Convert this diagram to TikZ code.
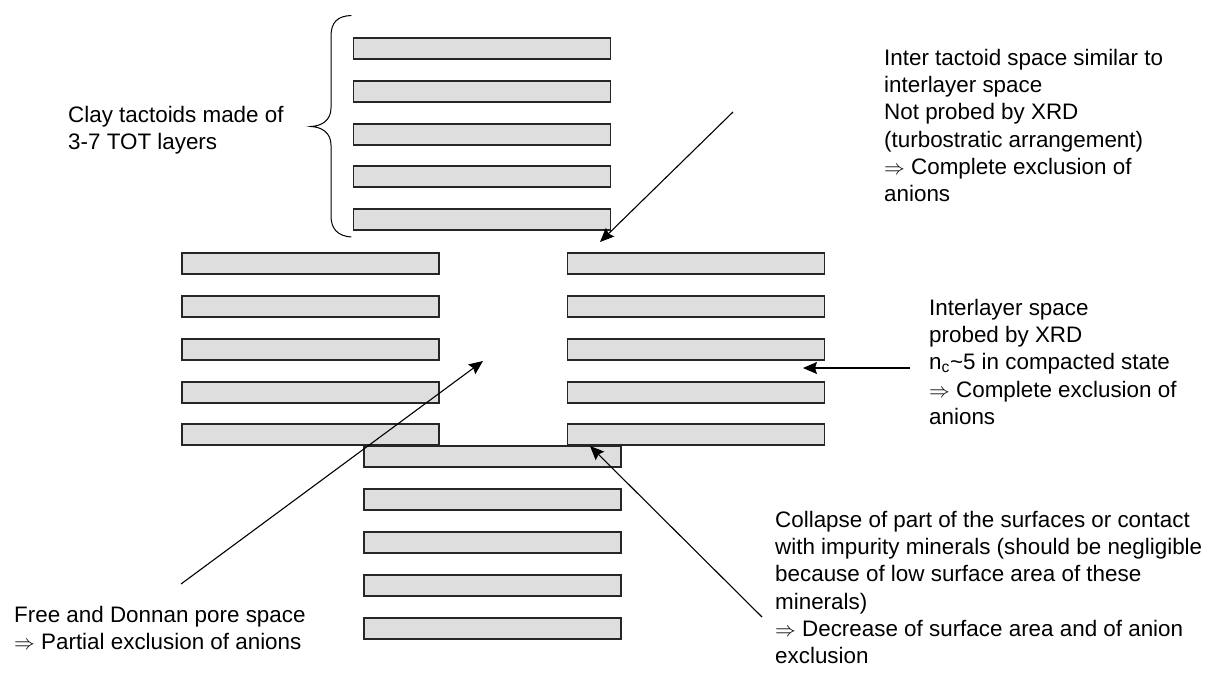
\documentclass[tikz,border=0pt]{standalone}
\usepackage{fontspec}
\setmainfont{Liberation Sans}
\usetikzlibrary{arrows.meta}
\tikzset{
  layerbox/.style={draw=black!85,line width=1.1pt,fill=black!13,minimum width=#1,minimum height=21pt,inner sep=0pt,outer sep=0pt,anchor=north west},
  layerbox/.default=257pt,
  label/.style={anchor=north west,align=left,inner sep=0pt,font=\fontsize{22.4}{27.2}\selectfont},
  pointer/.style={line width=1.1pt,-{Stealth[length=14pt,width=12pt,inset=2pt]}},
  bracecurve/.style={line width=1pt,line cap=round}
}
\begin{document}
\begin{tikzpicture}[x=1pt,y=-1pt]
\useasboundingbox (0,0) rectangle (1216,675);
% top tactoid
\foreach \n/\y in {a/38,b/81,c/124,d/166,e/209}
  \node[layerbox] (top\n) at (353.5,\y) {};
% middle left and right tactoids
\foreach \n/\y in {a/253,b/296,c/339,d/382,e/424}{
  \node[layerbox] (left\n) at (182,\y) {};
  \node[layerbox] (right\n) at (567.5,\y) {};
}
% bottom tactoid
\foreach \n/\y in {a/446,b/489,c/532,d/575,e/618}
  \node[layerbox] (bot\n) at (364,\y) {};
% brace
\draw[bracecurve] (351,15.5) .. controls (338,16) and (331,22) .. (331,36)
  -- (331,108) .. controls (331,120) and (322,126) .. (311,126.5)
  .. controls (322,127) and (331,133) .. (331,145)
  -- (331,216) .. controls (331,229) and (338,236) .. (351,237);
% labels
\node[label] (clay) at (68,106) {Clay tactoids made of\\3-7 TOT layers};
\node[label] (inter) at (884,49) {Inter tactoid space similar to\\interlayer space\\Not probed by XRD\\(turbostratic arrangement)\\$\Rightarrow$ Complete exclusion of\\anions};
\node[label] (xrd) at (929,299) {Interlayer space\\probed by XRD\\n\textsubscript{c}\textasciitilde5 in compacted state\\$\Rightarrow$ Complete exclusion of\\anions};
\node[label] (collapse) at (775,511) {Collapse of part of the surfaces or contact\\with impurity minerals (should be negligible\\because of low surface area of these\\minerals)\\$\Rightarrow$ Decrease of surface area and of anion\\exclusion};
\node[label] (free) at (14,606) {Free and Donnan pore space\\$\Rightarrow$ Partial exclusion of anions};
% arrow ends
\coordinate (s1) at (733,112);
\coordinate (t1) at (600,242);
\coordinate (s2) at (910,368);
\coordinate (t2) at (803,368);
\coordinate (s3) at (181,584);
\coordinate (t3) at (483,361);
\coordinate (s4) at (762,617);
\coordinate (t4) at (590,446);
\draw[pointer] (s1) -- (t1);
\draw[pointer] (s2) -- (t2);
\draw[pointer] (s3) -- (t3);
\draw[pointer] (s4) -- (t4);
\end{tikzpicture}
\end{document}
